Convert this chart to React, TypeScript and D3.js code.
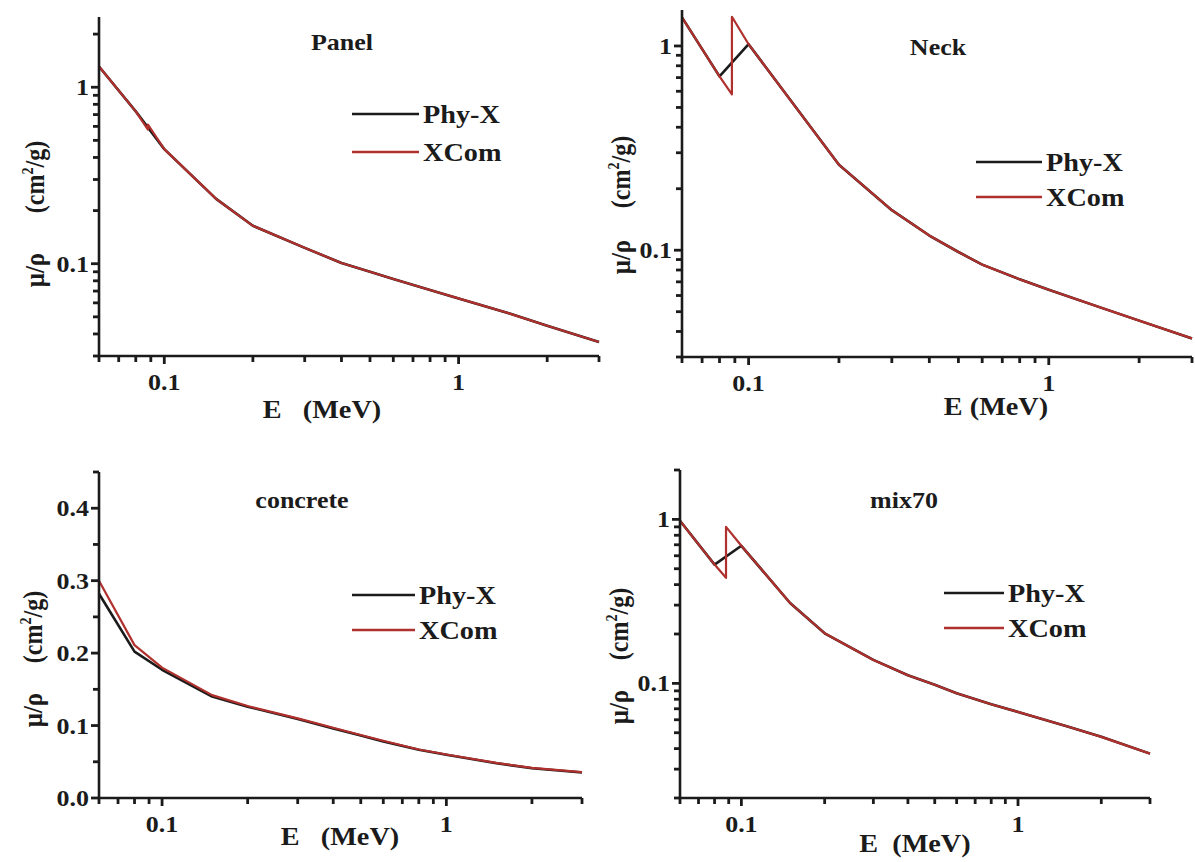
import React, { useRef, useEffect } from "react";
import * as d3 from "d3";

// photon energies (MeV)
const energies = [0.06, 0.08, 0.1, 0.15, 0.2, 0.3, 0.4, 0.5, 0.6, 0.8, 1, 1.5, 2, 3];
// XCom grid includes the absorption edge twice (below / above)
const edgeEnergies = [0.06, 0.08, 0.088, 0.088, 0.1, 0.15, 0.2, 0.3, 0.4, 0.5, 0.6, 0.8, 1, 1.5, 2, 3];

const panelPhyX = [1.31, 0.73, 0.446, 0.233, 0.164, 0.123, 0.101, 0.09, 0.082, 0.071, 0.0636, 0.052, 0.0445, 0.036];
const panelXCom = [1.31, 0.73, 0.575, 0.615, 0.446, 0.233, 0.164, 0.123, 0.101, 0.09, 0.082, 0.071, 0.0636, 0.052, 0.0445, 0.036];

const neckPhyX = [1.38, 0.71, 1.02, 0.46, 0.262, 0.157, 0.118, 0.098, 0.085, 0.072, 0.064, 0.0522, 0.0452, 0.037];
const neckXCom = [1.38, 0.71, 0.58, 1.39, 1.02, 0.46, 0.262, 0.157, 0.118, 0.098, 0.085, 0.072, 0.064, 0.0522, 0.0452, 0.037];

const concretePhyX = [0.282, 0.202, 0.177, 0.14, 0.126, 0.109, 0.096, 0.0864, 0.078, 0.0666, 0.0597, 0.048, 0.041, 0.0353];
const concreteXCom = [0.3, 0.211, 0.18, 0.142, 0.127, 0.11, 0.097, 0.087, 0.079, 0.067, 0.06, 0.0485, 0.0415, 0.0357];

const mixPhyX = [0.98, 0.53, 0.69, 0.309, 0.202, 0.139, 0.112, 0.098, 0.087, 0.0746, 0.067, 0.0548, 0.0472, 0.0373];
const mixXCom = [0.98, 0.53, 0.44, 0.9, 0.69, 0.309, 0.202, 0.139, 0.112, 0.098, 0.087, 0.0746, 0.067, 0.0548, 0.0472, 0.0373];

const seriesNames = ["Phy-X", "XCom"];
const xDomain = [0.06, 3];
const xLabelTicks = [0.1, 1];
const linearTickLabels = [0, 0.1, 0.2, 0.3, 0.4];

const FONT = "'Liberation Serif', 'Times New Roman', serif";
const BLACK = "#1b1b1b";
const RED = "#b0302d";
const STRETCH = 1.13; // the source figure is a little wider than tall

const panels = [
  {
    title: "Panel", phy: panelPhyX, xcom: panelXCom, xcomE: edgeEnergies, log: true, yDomain: [0.03, 2.5],
    box: { l: 99, r: 599, t: 17, b: 356 }, titlePos: [342, 50],
    legend: { x1: 352, x2: 419, y: 114, gap: 38 },
    xTitle: "E   (MeV)", xTitlePos: [322, 418],
    muPos: [44, 270], unitPos: [44, 177],
  },
  {
    title: "Neck", phy: neckPhyX, xcom: neckXCom, xcomE: edgeEnergies, log: true, yDomain: [0.03, 1.5],
    box: { l: 682, r: 1192, t: 10, b: 357 }, titlePos: [938, 55],
    legend: { x1: 976, x2: 1042, y: 162, gap: 35 },
    xTitle: "E (MeV)", xTitlePos: [996, 415],
    muPos: [630, 257], unitPos: [630, 172],
  },
  {
    title: "concrete", phy: concretePhyX, xcom: concreteXCom, xcomE: energies, log: false, yDomain: [0, 0.45],
    box: { l: 99, r: 582, t: 472, b: 798 }, titlePos: [302, 508],
    legend: { x1: 352, x2: 415, y: 595, gap: 35 },
    xTitle: "E   (MeV)", xTitlePos: [340, 845],
    muPos: [42, 710], unitPos: [42, 627],
  },
  {
    title: "mix70", phy: mixPhyX, xcom: mixXCom, xcomE: edgeEnergies, log: true, yDomain: [0.02, 2],
    box: { l: 680, r: 1150, t: 470, b: 798 }, titlePos: [904, 508],
    legend: { x1: 944, x2: 1004, y: 593, gap: 35 },
    xTitle: "E  (MeV)", xTitlePos: [915, 852],
    muPos: [628, 707], unitPos: [628, 624],
  },
];

const App = () => {
  const svgRef = useRef(null);

  useEffect(() => {
    const svg = d3.select(svgRef.current);
    svg.selectAll("*").remove();
    svg.append("rect").attr("width", 1195).attr("height", 862).attr("fill", "#fff");

    const addText = (g, x, y, txt, size, anchor = "middle", rotate = false) =>
      g.append("text")
        .attr("transform", `translate(${x},${y}) scale(${STRETCH},1)${rotate ? " rotate(-90)" : ""}`)
        .attr("text-anchor", anchor).attr("font-family", FONT).attr("font-weight", "bold")
        .attr("font-size", size).attr("fill", BLACK).style("white-space", "pre").text(txt);

    panels.forEach((p) => {
      const g = svg.append("g");
      const { l, r, t, b } = p.box;
      const x = d3.scaleLog().domain(xDomain).range([l, r]);
      const y = p.log
        ? d3.scaleLog().domain(p.yDomain).range([b, t])
        : d3.scaleLinear().domain(p.yDomain).range([b, t]);

      const line = d3.line().x((d) => x(d[0])).y((d) => y(d[1]));

      // Phy-X underneath, XCom on top
      g.append("path")
        .datum(energies.map((e, i) => [e, p.phy[i]]))
        .attr("d", line)
        .attr("fill", "none")
        .attr("stroke", BLACK)
        .attr("stroke-width", 2.6)
        .attr("stroke-linejoin", "round");
      g.append("path")
        .datum(p.xcomE.map((e, i) => [e, p.xcom[i]]))
        .attr("d", line)
        .attr("fill", "none")
        .attr("stroke", RED)
        .attr("stroke-width", 2.2)
        .attr("stroke-linejoin", "round");

      // axes lines
      g.append("line").attr("x1", l).attr("x2", l).attr("y1", t).attr("y2", b + 1)
        .attr("stroke", BLACK).attr("stroke-width", 2.6);
      g.append("line").attr("x1", l - 1).attr("x2", r).attr("y1", b).attr("y2", b)
        .attr("stroke", BLACK).attr("stroke-width", 2.6);

      // x ticks (outward)
      x.ticks().forEach((v) => {
        const major = xLabelTicks.some((m) => Math.abs(m - v) < 1e-9);
        g.append("line").attr("x1", x(v)).attr("x2", x(v)).attr("y1", b).attr("y2", b + (major ? 8 : 6))
          .attr("stroke", BLACK).attr("stroke-width", 2.8);
        if (major) addText(g, x(v), b + 34, d3.format("~g")(v), 23);
      });

      // y ticks
      const yTicks = p.log ? y.ticks() : d3.range(0, 0.451, 0.05);
      const yMajors = p.log ? xLabelTicks : linearTickLabels;
      const yFmt = p.log ? d3.format("~g") : d3.format(".1f");
      yTicks.forEach((v) => {
        const major = yMajors.some((m) => Math.abs(m - v) < 1e-9);
        g.append("line").attr("x1", l).attr("x2", l - (major ? 8 : 6)).attr("y1", y(v)).attr("y2", y(v))
          .attr("stroke", BLACK).attr("stroke-width", 2.8);
        if (major) addText(g, l - 10, y(v) + 8, yFmt(v), 23, "end");
      });

      addText(g, p.titlePos[0], p.titlePos[1], p.title, 23);
      addText(g, p.xTitlePos[0], p.xTitlePos[1], p.xTitle, 25);

      // y title: μ/ρ and unit
      addText(g, p.muPos[0], p.muPos[1], "μ/ρ", 25, "middle", true);
      const unit = addText(g, p.unitPos[0], p.unitPos[1], "", 24, "middle", true);
      unit.append("tspan").text("(cm");
      unit.append("tspan").attr("font-size", 14).attr("dy", -10).text("2");
      unit.append("tspan").attr("dy", 10).text("/g)");

      // legend
      [BLACK, RED].forEach((c, i) => {
        const ly = p.legend.y + i * p.legend.gap;
        g.append("line").attr("x1", p.legend.x1).attr("x2", p.legend.x2).attr("y1", ly).attr("y2", ly)
          .attr("stroke", c).attr("stroke-width", 2.6);
        addText(g, p.legend.x2 + 4, ly + 9, seriesNames[i], 25, "start");
      });
    });
  }, []);

  return (
    <svg
      ref={svgRef}
      width={1195}
      height={862}
      style={{ position: "absolute", left: 0, top: 0 }}
    />
  );
};

export default App;
